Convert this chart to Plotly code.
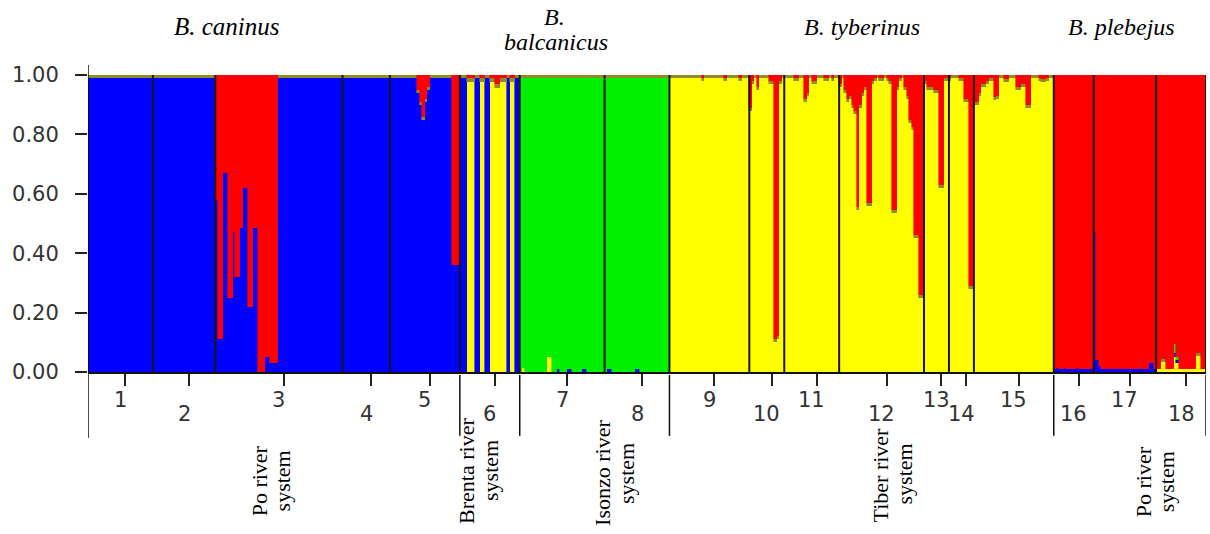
import plotly.graph_objects as go

# ---------------- data ----------------
pop_labels = ["1", "2", "3", "4", "5", "6", "7", "8", "9", "10",
              "11", "12", "13", "14", "15", "16", "17", "18"]
pop_sizes = [26, 25, 51, 19, 28, 24, 34, 26, 32, 14, 22, 34, 10, 10, 32, 16, 25, 20]

species = ["<i>B. caninus</i>", "<i>B.</i>", "<i>balcanicus</i>", "<i>B. tyberinus</i>", "<i>B. plebejus</i>"]
river_line1 = ["Po river", "Brenta river", "Isonzo river", "Tiber river", "Po river"]
river_line2 = ["system", "system", "system", "system", "system"]
river_last_pop = [5, 6, 8, 15, 18]   # 1-based index of the last population in each river group

# Q-values per individual, populations 1..18 concatenated (stack order bottom -> top)
q_yellow = (
    [0] * 149                                                        # pops 1-5
    + [0, 0, 0, 0.975, 0.975, 0.975, 0, 0, 0.975, 0.975, 0, 0, 0.975, 0.975,
       0.955, 0.955, 0.975, 0.975, 0.975, 0, 0.975, 0.975, 0, 0]     # pop 6
    + [0, 0.015, 0, 0, 0, 0, 0, 0, 0, 0, 0, 0.05, 0.05, 0, 0, 0, 0,
       0, 0, 0, 0, 0, 0, 0, 0, 0, 0, 0, 0, 0, 0, 0, 0, 0]            # pop 7
    + [0] * 26                                                       # pop 8
    + [0.99] * 13 + [0.98] + [0.99] * 8 + [0.98] + [0.99] * 5 + [0.98] + [0.99] * 3   # pop 9
    + [0.88, 0.97, 0.99, 0.95, 0.99, 0.99, 0.99, 0.99, 0.97, 0.97, 0.10, 0.11, 0.97, 0.99]  # pop 10
    + [0.99, 0.99, 0.99, 0.99, 0.98, 0.98, 0.99, 0.99, 0.91, 0.93, 0.99, 0.97, 0.97,
       0.99, 0.99, 0.99, 0.98, 0.98, 0.99, 0.98, 0.99, 0.99]        # pop 11
    + [0.96, 0.99, 0.94, 0.91, 0.92, 0.89, 0.87, 0.545, 0.89, 0.93, 0.95, 0.56, 0.56,
       0.97, 0.98, 0.99, 0.98, 0.98, 0.99, 0.98, 0.97, 0.535, 0.535, 0.95, 0.98, 0.99,
       0.95, 0.92, 0.84, 0.815, 0.45, 0.45, 0.25, 0.25]             # pop 12
    + [0.97, 0.95, 0.95, 0.95, 0.94, 0.94, 0.62, 0.62, 0.98, 0.98]  # pop 13
    + [0.98, 0.99, 0.99, 0.99, 0.98, 0.98, 0.91, 0.91, 0.28, 0.28]  # pop 14
    + [0.90, 0.90, 0.93, 0.96, 0.96, 0.97, 0.98, 0.98, 0.915, 0.92, 0.99, 0.99, 0.975,
       0.975, 0.99, 0.99, 0.99, 0.95, 0.95, 0.96, 0.96, 0.89, 0.89, 0.99, 0.99, 0.99,
       0.98, 0.975, 0.975, 0.98, 0.99, 0.99]                        # pop 15
    + [0] * 41                                                       # pops 16-17
    + [0.01, 0.01, 0.035, 0.035, 0.01, 0.01, 0.01, 0.05, 0.03, 0.01, 0.01, 0.01,
       0.01, 0.01, 0.01, 0.01, 0.055, 0.055, 0.01, 0.01]            # pop 18
)

q_blue = (
    [0.99] * 26 + [0.99] * 25                                        # pops 1-2
    + [0.58, 0.11, 0.11, 0.67, 0.67, 0.25, 0.25, 0.47, 0.32, 0.32, 0.485, 0.62, 0.62,
       0.22, 0.22, 0.485, 0.485, 0.0, 0.0, 0.0, 0.05, 0.05, 0.03, 0.03, 0.03] + [0.99] * 26  # pop 3
    + [0.99] * 19                                                    # pop 4
    + [0.99] * 11 + [0.94, 0.90, 0.85, 0.91, 0.95] + [0.99] * 9 + [0.36, 0.36, 0.36]   # pop 5
    + [0.99, 0.99, 0.99, 0, 0, 0, 0.99, 0.99, 0, 0, 0.99, 0.99, 0, 0, 0, 0, 0, 0, 0,
       0.99, 0, 0, 0.99, 0.99]                                       # pop 6
    + [0, 0, 0, 0, 0, 0, 0, 0, 0, 0, 0, 0, 0, 0, 0, 0.01, 0, 0, 0, 0.01, 0.01, 0, 0,
       0, 0, 0.01, 0.01, 0, 0, 0, 0, 0, 0, 0]                        # pop 7
    + [0, 0.01, 0.01, 0, 0, 0, 0, 0, 0, 0, 0, 0, 0.01, 0.01, 0, 0, 0, 0, 0, 0, 0, 0,
       0, 0, 0, 0]                                                   # pop 8
    + [0] * 154                                                      # pops 9-15
    + [0.01, 0.015, 0.01, 0.01, 0.015, 0.01, 0.01, 0.01, 0.01, 0.015, 0.01, 0.01,
       0.01, 0.01, 0.01, 0.01]                                       # pop 16
    + [0.47, 0.04, 0.02, 0.01, 0.01, 0.01, 0.01, 0.01, 0.01, 0.01, 0.01, 0.01, 0.01,
       0.01, 0.01, 0.01, 0.01, 0.01, 0.01, 0.01, 0.01, 0.01, 0.03, 0.03, 0.01]        # pop 17
    + [0, 0, 0, 0, 0, 0, 0, 0.015, 0.01, 0, 0, 0, 0, 0, 0, 0, 0, 0, 0, 0]          # pop 18
)

q_green = (
    [0] * 173                                                        # pops 1-6
    + [0.99, 0.975, 0.99, 0.99, 0.99, 0.99, 0.99, 0.99, 0.99, 0.99, 0.99, 0.94, 0.94,
       0.99, 0.99, 0.98, 0.99, 0.99, 0.99, 0.98, 0.98, 0.99, 0.99, 0.99, 0.99, 0.98,
       0.98, 0.99, 0.99, 0.99, 0.99, 0.99, 0.99, 0.99]               # pop 7
    + [0.99, 0.98, 0.98, 0.99, 0.99, 0.99, 0.99, 0.99, 0.99, 0.99, 0.99, 0.99, 0.98,
       0.98, 0.99, 0.99, 0.99, 0.99, 0.99, 0.99, 0.99, 0.99, 0.99, 0.99, 0.99, 0.99]  # pop 8
    + [0] * 195                                                      # pops 9-17
    + [0, 0, 0, 0, 0, 0, 0, 0.03, 0.01, 0, 0, 0, 0, 0, 0, 0, 0, 0, 0, 0]            # pop 18
)

q_olive = (
    [0.01] * 51                                                      # pops 1-2
    + [0] * 25 + [0.01] * 26                                         # pop 3
    + [0.01] * 19                                                    # pop 4
    + [0.01] * 25 + [0, 0, 0]                                        # pop 5
    + [0.01, 0.01, 0.01, 0.015, 0.015, 0.015, 0.01, 0.01, 0.015, 0.015, 0.01, 0.01,
       0.015, 0.015, 0.015, 0.015, 0.015, 0.015, 0.015, 0.01, 0.015, 0.015, 0.01, 0.01]  # pop 6
    + [0.01] * 214                                                   # pops 7-15
    + [0] * 41                                                       # pops 16-17
    + [0, 0, 0.01, 0.01, 0, 0, 0, 0, 0, 0, 0, 0, 0, 0, 0, 0, 0.01, 0.01, 0, 0]      # pop 18
)

q_red = (
    [0] * 51                                                         # pops 1-2
    + [0.42, 0.89, 0.89, 0.33, 0.33, 0.75, 0.75, 0.53, 0.68, 0.68, 0.515, 0.38, 0.38,
       0.78, 0.78, 0.515, 0.515, 1.0, 1.0, 1.0, 0.95, 0.95, 0.97, 0.97, 0.97] + [0] * 26  # pop 3
    + [0] * 19                                                       # pop 4
    + [0] * 11 + [0.05, 0.09, 0.14, 0.08, 0.04] + [0] * 9 + [0.64, 0.64, 0.64]      # pop 5
    + [0, 0, 0, 0.01, 0.01, 0.01, 0, 0, 0.01, 0.01, 0, 0, 0.01, 0.01, 0.03, 0.03,
       0.01, 0.01, 0.01, 0, 0.01, 0.01, 0, 0]                        # pop 6
    + [0] * 60                                                       # pops 7-8
    + [0] * 13 + [0.01] + [0] * 8 + [0.01] + [0] * 5 + [0.01] + [0] * 3             # pop 9
    + [0.11, 0.02, 0, 0.04, 0, 0, 0, 0, 0.02, 0.02, 0.89, 0.88, 0.02, 0]            # pop 10
    + [0, 0, 0, 0, 0.01, 0.01, 0, 0, 0.08, 0.06, 0, 0.02, 0.02, 0, 0, 0, 0.01, 0.01,
       0, 0.01, 0, 0]                                                # pop 11
    + [0.03, 0, 0.05, 0.08, 0.07, 0.10, 0.12, 0.445, 0.10, 0.06, 0.04, 0.43, 0.43,
       0.02, 0.01, 0, 0.01, 0.01, 0, 0.01, 0.02, 0.455, 0.455, 0.04, 0.01, 0, 0.04,
       0.07, 0.15, 0.175, 0.54, 0.54, 0.74, 0.74]                    # pop 12
    + [0.02, 0.04, 0.04, 0.04, 0.05, 0.05, 0.37, 0.37, 0.01, 0.01]  # pop 13
    + [0.01, 0, 0, 0, 0.01, 0.01, 0.08, 0.08, 0.71, 0.71]           # pop 14
    + [0.09, 0.09, 0.06, 0.03, 0.03, 0.02, 0.01, 0.01, 0.075, 0.07, 0, 0, 0.015, 0.015,
       0, 0, 0, 0.04, 0.04, 0.03, 0.03, 0.10, 0.10, 0, 0, 0, 0.01, 0.015, 0.015,
       0.01, 0, 0]                                                   # pop 15
    + [0.99, 0.985, 0.99, 0.99, 0.985, 0.99, 0.99, 0.99, 0.99, 0.985, 0.99, 0.99,
       0.99, 0.99, 0.99, 0.99]                                       # pop 16
    + [0.53, 0.96, 0.98, 0.99, 0.99, 0.99, 0.99, 0.99, 0.99, 0.99, 0.99, 0.99, 0.99,
       0.99, 0.99, 0.99, 0.99, 0.99, 0.99, 0.99, 0.99, 0.99, 0.97, 0.97, 0.99]        # pop 17
    + [0.99, 0.99, 0.955, 0.955, 0.99, 0.99, 0.99, 0.905, 0.95, 0.99, 0.99, 0.99,
       0.99, 0.99, 0.99, 0.99, 0.935, 0.935, 0.99, 0.99]            # pop 18
)

clusters = [("yellow", q_yellow, "#FFFF00"), ("blue", q_blue, "#0000FF"),
            ("green", q_green, "#00F000"), ("other", q_olive, "#8C8C28"),
            ("red", q_red, "#FF0000")]

# ---------------- geometry from data ----------------
n_ind = sum(pop_sizes)
xs = [i + 0.5 for i in range(n_ind)]
bounds = [0]
for s in pop_sizes:
    bounds.append(bounds[-1] + s)
centers = [(bounds[k] + bounds[k + 1]) / 2 for k in range(len(pop_sizes))]

fig = go.Figure()
for name, vals, col in clusters:
    vv = [v if v > 0 else None for v in vals[:n_ind]]
    fig.add_trace(go.Bar(x=xs, y=vv, width=1.0, name=name,
                         marker=dict(color=col, line=dict(width=0.6, color=col)),
                         hoverinfo="skip", showlegend=False))

shapes = []
# population separators inside the plot
for b in bounds[1:]:
    shapes.append(dict(type="line", xref="x", yref="y", x0=b, x1=b, y0=0, y1=1,
                       line=dict(color="#151515", width=2)))
# y axis line (extends above the plot and below as group separator)
shapes.append(dict(type="line", xref="x", yref="paper", x0=0, x1=0, y0=-0.222, y1=1.034,
                   line=dict(color="#111", width=1.5)))
# river-group separators below the axis
for lp in river_last_pop:
    b = bounds[lp]
    shapes.append(dict(type="line", xref="x", yref="paper", x0=b, x1=b, y0=-0.01, y1=-0.215,
                       line=dict(color="#111", width=1.5)))

ann = []
for k, lab in enumerate(pop_labels):
    ann.append(dict(x=centers[k], y=(-0.094 if k % 2 == 0 else -0.140), xref="x", yref="paper",
                    text=lab, showarrow=False, xanchor="center", yanchor="middle",
                    font=dict(family="DejaVu Sans", size=21, color="#333")))

# species titles (paper coordinates)
sp_pos = [(0.1243, 1.162), (0.4177, 1.195), (0.4186, 1.111), (0.6923, 1.162), (0.924, 1.162)]
sp_size = [25, 24, 24, 24, 24]
for txt, (px, py), fs in zip(species, sp_pos, sp_size):
    ann.append(dict(x=px, y=py, xref="paper", yref="paper", text=txt, showarrow=False,
                    xanchor="center", yanchor="middle",
                    font=dict(family="Liberation Serif", size=fs, color="#000")))

# river system labels (rotated, two columns each)
rv_x1 = [0.1530, 0.3390, 0.4606, 0.7084, 0.9436]
rv_x2 = [0.1736, 0.3605, 0.4821, 0.7299, 0.9642]
rv_y = [-0.368, -0.333, -0.340, -0.345, -0.368]
for t1, t2, x1, x2, py in zip(river_line1, river_line2, rv_x1, rv_x2, rv_y):
    for txt, px in ((t1, x1), (t2, x2)):
        ann.append(dict(x=px, y=py, xref="paper", yref="paper", text=txt, showarrow=False,
                        textangle=-90, xanchor="center", yanchor="middle",
                        font=dict(family="Liberation Serif", size=22, color="#000")))

fig.update_layout(
    width=1210, height=534,
    margin=dict(l=88, r=4, t=75, b=162),
    paper_bgcolor="white", plot_bgcolor="white",
    barmode="stack", bargap=0,
    shapes=shapes, annotations=ann,
    xaxis=dict(range=[0, n_ind], showgrid=False, zeroline=False,
               showline=True, linecolor="#111", linewidth=1.5,
               tickmode="array", tickvals=[c + 2 for c in centers], ticktext=[""] * len(centers),
               ticks="outside", ticklen=12, tickwidth=1.5, tickcolor="#222",
               showticklabels=False, fixedrange=True),
    yaxis=dict(range=[0, 1], showgrid=False, zeroline=False, showline=False,
               tickmode="array", tickvals=[0, 0.2, 0.4, 0.6, 0.8, 1.0],
               ticktext=["0.00", "0.20", "0.40", "0.60", "0.80", "1.00"],
               ticks="outside", ticklen=12, tickwidth=1.5, tickcolor="#222",
               ticklabelstandoff=12,
               tickfont=dict(family="DejaVu Sans", size=21, color="#333"), fixedrange=True),
)

fig.write_html("out.html")
